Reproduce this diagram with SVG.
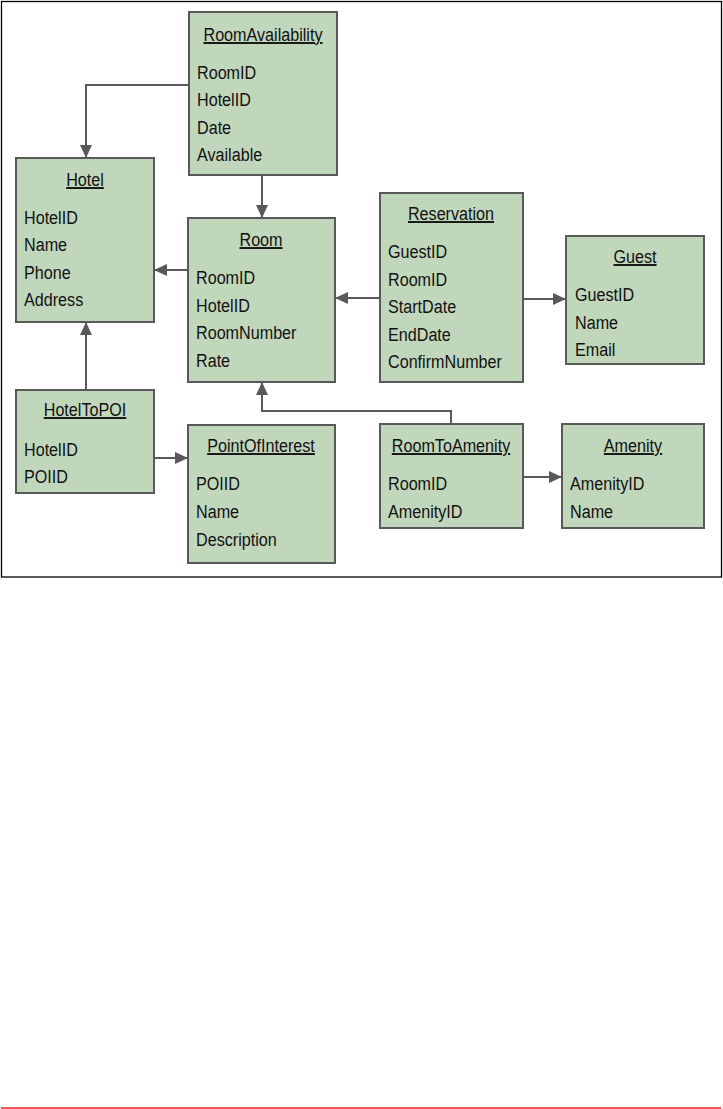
<svg xmlns="http://www.w3.org/2000/svg" width="723" height="1109" viewBox="0 0 723 1109">
<style>
.box{fill:#c1d7bc;stroke:#595959;stroke-width:2}
.t{font-family:"Liberation Sans",sans-serif;font-size:19px;fill:#111}
.h{text-anchor:middle;text-decoration:underline}
.c{fill:none;stroke:#595959;stroke-width:2}
</style>
<defs>
<marker id="a" viewBox="0 0 13 12" refX="13" refY="6" markerWidth="13" markerHeight="12" markerUnits="userSpaceOnUse" orient="auto">
<path d="M0,0 L13,6 L0,12 Z" fill="#595959"/>
</marker>
</defs>
<rect x="1.5" y="1.5" width="720" height="575.5" fill="#fff" stroke="#000" stroke-width="1.3"/>
<line x1="1" y1="1108" x2="721" y2="1108" stroke="#e8202a" stroke-width="1.5"/>
<g id="connectors">
<path class="c" d="M189,85 H86 V158" marker-end="url(#a)"/>
<path class="c" d="M262,175 V218" marker-end="url(#a)"/>
<path class="c" d="M188,270 H154" marker-end="url(#a)"/>
<path class="c" d="M380,298 H335" marker-end="url(#a)"/>
<path class="c" d="M523,299 H566" marker-end="url(#a)"/>
<path class="c" d="M86,390 V322" marker-end="url(#a)"/>
<path class="c" d="M154,458 H188" marker-end="url(#a)"/>
<path class="c" d="M451,424 V411 H262 V382" marker-end="url(#a)"/>
<path class="c" d="M523,477 H562" marker-end="url(#a)"/>
</g>
<g id="RoomAvailability">
<rect class="box" x="189" y="12" width="148" height="163"/>
<g transform="translate(263,0) scale(0.85,1)"><text class="t h" x="0" y="41">RoomAvailability</text></g>
<g transform="translate(197,0) scale(0.85,1)">
<text class="t" x="0" y="79">RoomID</text>
<text class="t" x="0" y="106">HotelID</text>
<text class="t" x="0" y="134">Date</text>
<text class="t" x="0" y="161">Available</text>
</g>
</g>
<g id="Hotel">
<rect class="box" x="16" y="158" width="138" height="164"/>
<g transform="translate(85,0) scale(0.85,1)"><text class="t h" x="0" y="186">Hotel</text></g>
<g transform="translate(24,0) scale(0.85,1)">
<text class="t" x="0" y="224">HotelID</text>
<text class="t" x="0" y="251">Name</text>
<text class="t" x="0" y="279">Phone</text>
<text class="t" x="0" y="306">Address</text>
</g>
</g>
<g id="Room">
<rect class="box" x="188" y="218" width="147" height="164"/>
<g transform="translate(261,0) scale(0.85,1)"><text class="t h" x="0" y="246">Room</text></g>
<g transform="translate(196,0) scale(0.85,1)">
<text class="t" x="0" y="284">RoomID</text>
<text class="t" x="0" y="312">HotelID</text>
<text class="t" x="0" y="339">RoomNumber</text>
<text class="t" x="0" y="367">Rate</text>
</g>
</g>
<g id="Reservation">
<rect class="box" x="380" y="193" width="143" height="189"/>
<g transform="translate(451,0) scale(0.85,1)"><text class="t h" x="0" y="220">Reservation</text></g>
<g transform="translate(388,0) scale(0.85,1)">
<text class="t" x="0" y="258">GuestID</text>
<text class="t" x="0" y="286">RoomID</text>
<text class="t" x="0" y="313">StartDate</text>
<text class="t" x="0" y="341">EndDate</text>
<text class="t" x="0" y="368">ConfirmNumber</text>
</g>
</g>
<g id="Guest">
<rect class="box" x="566" y="236" width="138" height="128"/>
<g transform="translate(635,0) scale(0.85,1)"><text class="t h" x="0" y="263">Guest</text></g>
<g transform="translate(575,0) scale(0.85,1)">
<text class="t" x="0" y="301">GuestID</text>
<text class="t" x="0" y="329">Name</text>
<text class="t" x="0" y="356">Email</text>
</g>
</g>
<g id="HotelToPOI">
<rect class="box" x="16" y="390" width="138" height="103"/>
<g transform="translate(85,0) scale(0.85,1)"><text class="t h" x="0" y="416">HotelToPOI</text></g>
<g transform="translate(24,0) scale(0.85,1)">
<text class="t" x="0" y="456">HotelID</text>
<text class="t" x="0" y="483">POIID</text>
</g>
</g>
<g id="PointOfInterest">
<rect class="box" x="188" y="425" width="147" height="138"/>
<g transform="translate(261,0) scale(0.85,1)"><text class="t h" x="0" y="452">PointOfInterest</text></g>
<g transform="translate(196,0) scale(0.85,1)">
<text class="t" x="0" y="490">POIID</text>
<text class="t" x="0" y="518">Name</text>
<text class="t" x="0" y="546">Description</text>
</g>
</g>
<g id="RoomToAmenity">
<rect class="box" x="380" y="424" width="143" height="104"/>
<g transform="translate(451,0) scale(0.85,1)"><text class="t h" x="0" y="452">RoomToAmenity</text></g>
<g transform="translate(388,0) scale(0.85,1)">
<text class="t" x="0" y="490">RoomID</text>
<text class="t" x="0" y="518">AmenityID</text>
</g>
</g>
<g id="Amenity">
<rect class="box" x="562" y="424" width="142" height="104"/>
<g transform="translate(633,0) scale(0.85,1)"><text class="t h" x="0" y="452">Amenity</text></g>
<g transform="translate(570,0) scale(0.85,1)">
<text class="t" x="0" y="490">AmenityID</text>
<text class="t" x="0" y="518">Name</text>
</g>
</g>
</svg>
